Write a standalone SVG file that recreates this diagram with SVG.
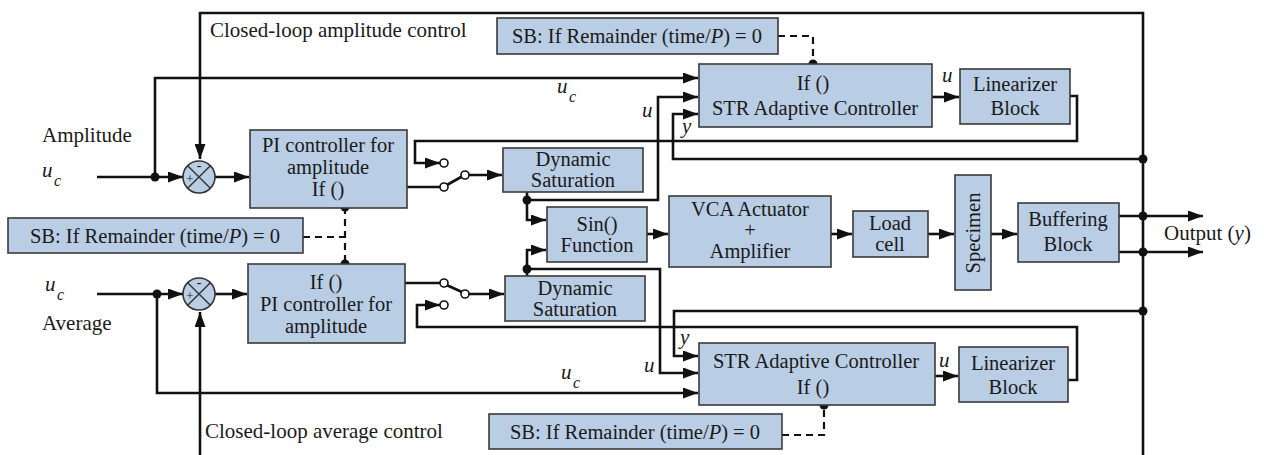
<svg xmlns="http://www.w3.org/2000/svg" width="1264" height="455" viewBox="0 0 1264 455">
<style>
.box{fill:#b9cde5;stroke:#3a3a3a;stroke-width:1.6}
.t{font-family:"Liberation Serif","Times New Roman",serif;font-size:20.5px;fill:#1a1a1a;text-anchor:middle}
.l{font-family:"Liberation Serif","Times New Roman",serif;font-size:21px;fill:#1a1a1a}
.i{font-style:italic}
.sub{font-family:"Liberation Serif","Times New Roman",serif;font-size:16px;font-style:italic;fill:#1a1a1a}
.w{fill:none;stroke:#111;stroke-width:2.6}
.a{marker-end:url(#arr)}
.d{fill:none;stroke:#111;stroke-width:2.2;stroke-dasharray:7,5}
.dot{fill:#111}
.sw{fill:#fff;stroke:#111;stroke-width:1.6}
</style>
<defs>
<marker id="arr" markerUnits="userSpaceOnUse" markerWidth="15" markerHeight="11" refX="15" refY="5.5" orient="auto">
<path d="M0,0 L15,5.5 L0,11 z" fill="#111"/>
</marker>
</defs>
<rect width="1264" height="455" fill="#fff"/>

<g id="connectors">
<path class="w a" d="M1143,455 V13 H200 V159"/>
<path class="w a" d="M200,455 V312"/>
<path class="w a" d="M97,177 H183"/>
<path class="w a" d="M155,177 V78 H698"/>
<path class="w a" d="M215,177 H249"/>
<path class="w" d="M407,187 H440"/>
<path class="w" d="M446,185.5 L462,176.5"/>
<path class="w a" d="M469,175 H502"/>
<path class="w a" d="M1070,96 H1077 V141 H415 V163 H440"/>
<path class="w a" d="M527,192 V220 H546"/>
<path class="w a" d="M527,200 H658 V97 H698"/>
<path class="w a" d="M1143,159 H673 V114 H698"/>
<path class="w a" d="M932,97 H959"/>
<path class="w a" d="M647,234 H668"/>
<path class="w a" d="M831,234 H852"/>
<path class="w a" d="M928,234 H954"/>
<path class="w a" d="M991,234 H1017"/>
<path class="w a" d="M1119,216 H1203"/>
<path class="w a" d="M1119,252 H1203"/>
<path class="w a" d="M97,294 H183"/>
<path class="w a" d="M157,294 V393 H698"/>
<path class="w a" d="M215,294 H247"/>
<path class="w" d="M405,283 H440"/>
<path class="w" d="M446.5,285 L462,292"/>
<path class="w a" d="M469,294 H504"/>
<path class="w a" d="M1068,380 H1077 V327 H417 V305 H440"/>
<path class="w a" d="M527,276 V250 H546"/>
<path class="w a" d="M527,269 H660 V373 H698"/>
<path class="w a" d="M1143,311 H674 V356 H698"/>
<path class="w a" d="M935,376 H958"/>
<path class="d" d="M778,36 H813 V64"/>
<path class="d" d="M345,207 V264 M303,237 H345"/>
<path class="d" d="M782,435 H824 V405"/>
<circle class="dot" cx="155" cy="177" r="4.5"/>
<circle class="dot" cx="157" cy="294" r="4.5"/>
<circle class="dot" cx="527" cy="200" r="4.5"/>
<circle class="dot" cx="527" cy="269" r="4.5"/>
<circle class="dot" cx="1143" cy="159" r="4.5"/>
<circle class="dot" cx="1143" cy="216" r="4.5"/>
<circle class="dot" cx="1143" cy="252" r="4.5"/>
<circle class="dot" cx="1143" cy="311" r="4.5"/>
<circle class="dot" cx="813" cy="64" r="4.5"/>
<circle class="dot" cx="345" cy="207" r="4.5"/>
<circle class="dot" cx="345" cy="264" r="4.5"/>
<circle class="dot" cx="824" cy="405" r="4.5"/>
<circle class="sw" cx="444" cy="163" r="4"/>
<circle class="sw" cx="444" cy="187" r="4"/>
<circle class="sw" cx="465" cy="175" r="4"/>
<circle class="sw" cx="444" cy="283" r="4"/>
<circle class="sw" cx="465" cy="294" r="4"/>
<circle class="sw" cx="444" cy="305" r="4"/>
</g>

<g id="sum1">
<circle cx="199" cy="177" r="16" fill="#b9cde5" stroke="#333" stroke-width="1.6"/>
<path d="M187.7,165.7 L210.3,188.3 M210.3,165.7 L187.7,188.3" stroke="#333" stroke-width="1.4"/>
<text x="199" y="170" class="t" style="font-size:14px">-</text>
<text x="190" y="183" class="t" style="font-size:13px">+</text>
</g>
<g id="sum2">
<circle cx="199" cy="294" r="16" fill="#b9cde5" stroke="#333" stroke-width="1.6"/>
<path d="M187.7,282.7 L210.3,305.3 M210.3,282.7 L187.7,305.3" stroke="#333" stroke-width="1.4"/>
<text x="199" y="287" class="t" style="font-size:14px">-</text>
<text x="190" y="300" class="t" style="font-size:13px">+</text>
</g>

<g id="sb-top">
<rect class="box" x="497" y="18" width="281" height="36"/>
<text class="t" x="637" y="43">SB: If Remainder (time/<tspan class="i">P</tspan>) = 0</text>
</g>
<g id="sb-mid">
<rect class="box" x="8" y="218" width="295" height="35"/>
<text class="t" x="155" y="243">SB: If Remainder (time/<tspan class="i">P</tspan>) = 0</text>
</g>
<g id="sb-bot">
<rect class="box" x="489" y="414" width="293" height="35"/>
<text class="t" x="635" y="439">SB: If Remainder (time/<tspan class="i">P</tspan>) = 0</text>
</g>

<g id="pi-top">
<rect class="box" x="250" y="130" width="157" height="78"/>
<text class="t" x="328" y="152">PI controller for</text>
<text class="t" x="328" y="174">amplitude</text>
<text class="t" x="328" y="196">If ()</text>
</g>
<g id="pi-bot">
<rect class="box" x="248" y="264" width="157" height="79"/>
<text class="t" x="326" y="289">If ()</text>
<text class="t" x="326" y="311">PI controller for</text>
<text class="t" x="326" y="333">amplitude</text>
</g>

<g id="str-top">
<rect class="box" x="699" y="64" width="233" height="63"/>
<text class="t" x="813" y="90">If ()</text>
<text class="t" x="815" y="115">STR Adaptive Controller</text>
</g>
<g id="str-bot">
<rect class="box" x="699" y="343" width="236" height="62"/>
<text class="t" x="816" y="368">STR Adaptive Controller</text>
<text class="t" x="813" y="394">If ()</text>
</g>

<g id="lin-top">
<rect class="box" x="960" y="69" width="110" height="55"/>
<text class="t" x="1015" y="91">Linearizer</text>
<text class="t" x="1015" y="115">Block</text>
</g>
<g id="lin-bot">
<rect class="box" x="959" y="347" width="109" height="55"/>
<text class="t" x="1013" y="370">Linearizer</text>
<text class="t" x="1013" y="394">Block</text>
</g>

<g id="ds-top">
<rect class="box" x="503" y="148" width="140" height="44"/>
<text class="t" x="573" y="166">Dynamic</text>
<text class="t" x="573" y="187">Saturation</text>
</g>
<g id="ds-bot">
<rect class="box" x="505" y="276" width="140" height="45"/>
<text class="t" x="575" y="295">Dynamic</text>
<text class="t" x="575" y="316">Saturation</text>
</g>

<g id="sin">
<rect class="box" x="547" y="207" width="100" height="55"/>
<text class="t" x="597" y="231">Sin()</text>
<text class="t" x="597" y="252">Function</text>
</g>
<g id="vca">
<rect class="box" x="669" y="196" width="162" height="71"/>
<text class="t" x="750" y="216">VCA Actuator</text>
<text class="t" x="750" y="237">+</text>
<text class="t" x="750" y="258">Amplifier</text>
</g>
<g id="loadcell">
<rect class="box" x="853" y="211" width="75" height="46"/>
<text class="t" x="890" y="230">Load</text>
<text class="t" x="890" y="251">cell</text>
</g>
<g id="specimen">
<rect class="box" x="955" y="175" width="36" height="115"/>
<text class="t" transform="translate(980,233) rotate(-90)">Specimen</text>
</g>
<g id="buffer">
<rect class="box" x="1018" y="203" width="101" height="59"/>
<text class="t" x="1068" y="226">Buffering</text>
<text class="t" x="1068" y="251">Block</text>
</g>

<g id="labels">
<text class="l" x="210" y="37">Closed-loop amplitude control</text>
<text class="l" x="205" y="438">Closed-loop average control</text>
<text class="l" x="42" y="142">Amplitude</text>
<text class="l" x="42" y="330">Average</text>
<text class="l i" x="42" y="177">u</text><text class="sub" x="54" y="186">c</text>
<text class="l i" x="45" y="291">u</text><text class="sub" x="57" y="300">c</text>
<text class="l i" x="557" y="93">u</text><text class="sub" x="569" y="102">c</text>
<text class="l i" x="561" y="379">u</text><text class="sub" x="573" y="388">c</text>
<text class="l i" x="642" y="117">u</text>
<text class="l i" x="682" y="133">y</text>
<text class="l i" x="644" y="372">u</text>
<text class="l i" x="680" y="344">y</text>
<text class="l i" x="942" y="82">u</text>
<text class="l i" x="939" y="367">u</text>
<text class="l" x="1164" y="240">Output (<tspan class="i">y</tspan>)</text>
</g>
</svg>
